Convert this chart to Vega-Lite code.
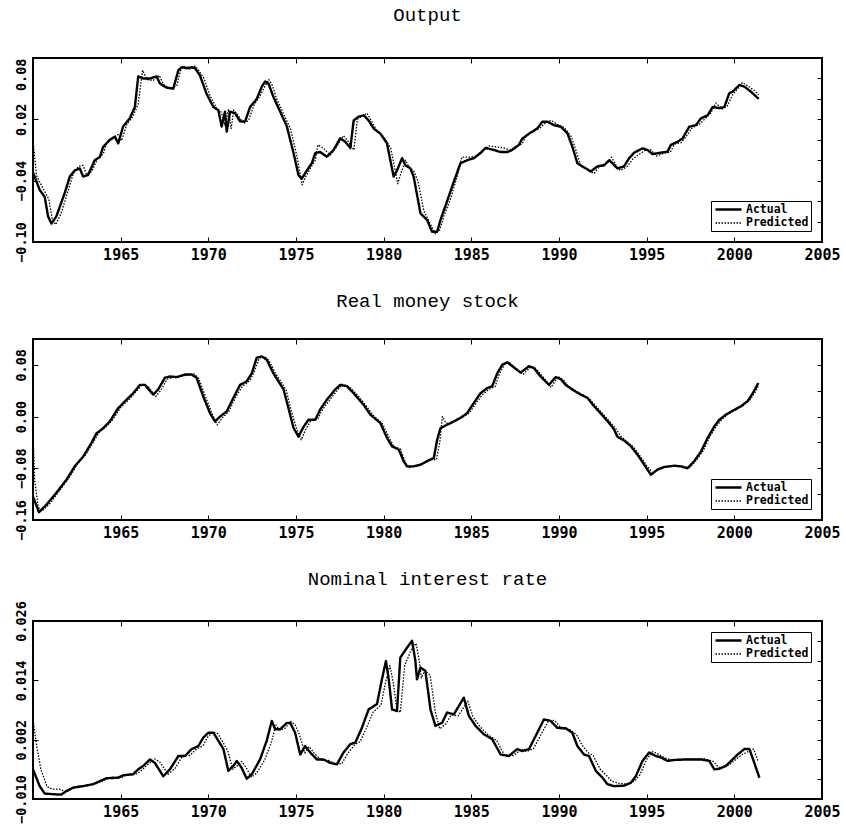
{
  "$schema": "https://vega.github.io/schema/vega-lite/v6.json",
  "padding": {"left": 12, "top": 4, "right": 4, "bottom": 2},
  "background": "white",
  "spacing": 26,
  "config": {
    "view": {"stroke": "black", "strokeWidth": 2},
    "title": {"font": "Liberation Mono", "fontSize": 19, "fontWeight": "normal", "color": "black"},
    "axis": {"domain": false, "grid": false, "labelFont": "DejaVu Sans Mono", "labelFontWeight": "bold", "labelColor": "black", "tickColor": "black", "tickSize": -5, "tickWidth": 1, "labelPadding": 10, "labelFlush": false, "labelOverlap": false},
    "axisX": {"labelFontSize": 15},
    "axisY": {"labelFontSize": 13.5, "labelAngle": 270},
    "legend": {"strokeColor": "black", "fillColor": "white", "padding": 2, "offset": 11, "labelFont": "DejaVu Sans Mono", "labelFontWeight": "bold", "labelFontSize": 11.5, "labelColor": "black", "symbolType": "M-2.6,0H2.6", "symbolStrokeColor": "black", "symbolSize": 100, "symbolOffset": 9, "rowPadding": 2, "labelOffset": 11}
  },
  "datasets": {
    "output": [
      {"series": "Actual", "year": 1960.0, "value": -0.032},
      {"series": "Actual", "year": 1960.38, "value": -0.049},
      {"series": "Actual", "year": 1960.67, "value": -0.056},
      {"series": "Actual", "year": 1960.86, "value": -0.075},
      {"series": "Actual", "year": 1961.05, "value": -0.082},
      {"series": "Actual", "year": 1961.33, "value": -0.075},
      {"series": "Actual", "year": 1961.81, "value": -0.052},
      {"series": "Actual", "year": 1962.1, "value": -0.036},
      {"series": "Actual", "year": 1962.38, "value": -0.03},
      {"series": "Actual", "year": 1962.67, "value": -0.028},
      {"series": "Actual", "year": 1962.86, "value": -0.036},
      {"series": "Actual", "year": 1963.14, "value": -0.0345},
      {"series": "Actual", "year": 1963.52, "value": -0.02},
      {"series": "Actual", "year": 1963.81, "value": -0.017},
      {"series": "Actual", "year": 1964.0, "value": -0.007},
      {"series": "Actual", "year": 1964.38, "value": 0.0},
      {"series": "Actual", "year": 1964.67, "value": 0.003},
      {"series": "Actual", "year": 1964.86, "value": -0.0035},
      {"series": "Actual", "year": 1965.14, "value": 0.013},
      {"series": "Actual", "year": 1965.52, "value": 0.021},
      {"series": "Actual", "year": 1965.81, "value": 0.032},
      {"series": "Actual", "year": 1966.0, "value": 0.062},
      {"series": "Actual", "year": 1966.29, "value": 0.06},
      {"series": "Actual", "year": 1966.67, "value": 0.06},
      {"series": "Actual", "year": 1967.05, "value": 0.062},
      {"series": "Actual", "year": 1967.24, "value": 0.055},
      {"series": "Actual", "year": 1967.62, "value": 0.051},
      {"series": "Actual", "year": 1968.0, "value": 0.05},
      {"series": "Actual", "year": 1968.29, "value": 0.068},
      {"series": "Actual", "year": 1968.48, "value": 0.071},
      {"series": "Actual", "year": 1968.76, "value": 0.07},
      {"series": "Actual", "year": 1969.05, "value": 0.071},
      {"series": "Actual", "year": 1969.24, "value": 0.07},
      {"series": "Actual", "year": 1969.52, "value": 0.063},
      {"series": "Actual", "year": 1969.9, "value": 0.045},
      {"series": "Actual", "year": 1970.29, "value": 0.032},
      {"series": "Actual", "year": 1970.57, "value": 0.029},
      {"series": "Actual", "year": 1970.76, "value": 0.013},
      {"series": "Actual", "year": 1970.95, "value": 0.0275},
      {"series": "Actual", "year": 1971.05, "value": 0.008},
      {"series": "Actual", "year": 1971.24, "value": 0.0275},
      {"series": "Actual", "year": 1971.52, "value": 0.026},
      {"series": "Actual", "year": 1971.81, "value": 0.018},
      {"series": "Actual", "year": 1972.1, "value": 0.018},
      {"series": "Actual", "year": 1972.38, "value": 0.032},
      {"series": "Actual", "year": 1972.76, "value": 0.04},
      {"series": "Actual", "year": 1973.05, "value": 0.052},
      {"series": "Actual", "year": 1973.24, "value": 0.057},
      {"series": "Actual", "year": 1973.43, "value": 0.055},
      {"series": "Actual", "year": 1973.71, "value": 0.042},
      {"series": "Actual", "year": 1974.1, "value": 0.0275},
      {"series": "Actual", "year": 1974.48, "value": 0.013},
      {"series": "Actual", "year": 1974.86, "value": -0.013},
      {"series": "Actual", "year": 1975.14, "value": -0.0345},
      {"series": "Actual", "year": 1975.33, "value": -0.038},
      {"series": "Actual", "year": 1975.62, "value": -0.03},
      {"series": "Actual", "year": 1975.9, "value": -0.023},
      {"series": "Actual", "year": 1976.1, "value": -0.013},
      {"series": "Actual", "year": 1976.38, "value": -0.012},
      {"series": "Actual", "year": 1976.76, "value": -0.0166},
      {"series": "Actual", "year": 1977.14, "value": -0.01},
      {"series": "Actual", "year": 1977.52, "value": 0.0014},
      {"series": "Actual", "year": 1977.81, "value": -0.002},
      {"series": "Actual", "year": 1978.1, "value": -0.008},
      {"series": "Actual", "year": 1978.29, "value": 0.019},
      {"series": "Actual", "year": 1978.57, "value": 0.0226},
      {"series": "Actual", "year": 1978.86, "value": 0.024},
      {"series": "Actual", "year": 1979.14, "value": 0.019},
      {"series": "Actual", "year": 1979.43, "value": 0.011},
      {"series": "Actual", "year": 1979.81, "value": 0.006},
      {"series": "Actual", "year": 1980.19, "value": -0.0035},
      {"series": "Actual", "year": 1980.38, "value": -0.02},
      {"series": "Actual", "year": 1980.57, "value": -0.036},
      {"series": "Actual", "year": 1980.76, "value": -0.03},
      {"series": "Actual", "year": 1981.05, "value": -0.018},
      {"series": "Actual", "year": 1981.24, "value": -0.025},
      {"series": "Actual", "year": 1981.52, "value": -0.028},
      {"series": "Actual", "year": 1981.71, "value": -0.036},
      {"series": "Actual", "year": 1982.1, "value": -0.072},
      {"series": "Actual", "year": 1982.48, "value": -0.0785},
      {"series": "Actual", "year": 1982.76, "value": -0.09},
      {"series": "Actual", "year": 1983.05, "value": -0.09},
      {"series": "Actual", "year": 1983.24, "value": -0.0785},
      {"series": "Actual", "year": 1983.62, "value": -0.06},
      {"series": "Actual", "year": 1984.0, "value": -0.041},
      {"series": "Actual", "year": 1984.38, "value": -0.023},
      {"series": "Actual", "year": 1984.76, "value": -0.02},
      {"series": "Actual", "year": 1985.14, "value": -0.018},
      {"series": "Actual", "year": 1985.52, "value": -0.013},
      {"series": "Actual", "year": 1985.81, "value": -0.008},
      {"series": "Actual", "year": 1986.29, "value": -0.01},
      {"series": "Actual", "year": 1986.67, "value": -0.012},
      {"series": "Actual", "year": 1987.05, "value": -0.012},
      {"series": "Actual", "year": 1987.33, "value": -0.01},
      {"series": "Actual", "year": 1987.71, "value": -0.005},
      {"series": "Actual", "year": 1987.9, "value": 0.001},
      {"series": "Actual", "year": 1988.29, "value": 0.006},
      {"series": "Actual", "year": 1988.76, "value": 0.011},
      {"series": "Actual", "year": 1989.05, "value": 0.0177},
      {"series": "Actual", "year": 1989.33, "value": 0.0177},
      {"series": "Actual", "year": 1989.71, "value": 0.0144},
      {"series": "Actual", "year": 1990.1, "value": 0.0128},
      {"series": "Actual", "year": 1990.48, "value": 0.0063},
      {"series": "Actual", "year": 1990.76, "value": -0.0067},
      {"series": "Actual", "year": 1991.05, "value": -0.023},
      {"series": "Actual", "year": 1991.33, "value": -0.026},
      {"series": "Actual", "year": 1991.81, "value": -0.031},
      {"series": "Actual", "year": 1992.19, "value": -0.026},
      {"series": "Actual", "year": 1992.57, "value": -0.025},
      {"series": "Actual", "year": 1992.86, "value": -0.02},
      {"series": "Actual", "year": 1993.05, "value": -0.023},
      {"series": "Actual", "year": 1993.33, "value": -0.028},
      {"series": "Actual", "year": 1993.71, "value": -0.026},
      {"series": "Actual", "year": 1994.0, "value": -0.018},
      {"series": "Actual", "year": 1994.29, "value": -0.0126},
      {"series": "Actual", "year": 1994.76, "value": -0.0084},
      {"series": "Actual", "year": 1995.05, "value": -0.01},
      {"series": "Actual", "year": 1995.33, "value": -0.014},
      {"series": "Actual", "year": 1995.81, "value": -0.0126},
      {"series": "Actual", "year": 1996.19, "value": -0.0117},
      {"series": "Actual", "year": 1996.38, "value": -0.005},
      {"series": "Actual", "year": 1996.76, "value": -0.002},
      {"series": "Actual", "year": 1997.05, "value": 0.0014},
      {"series": "Actual", "year": 1997.43, "value": 0.0128},
      {"series": "Actual", "year": 1997.81, "value": 0.0144},
      {"series": "Actual", "year": 1998.1, "value": 0.021},
      {"series": "Actual", "year": 1998.48, "value": 0.024},
      {"series": "Actual", "year": 1998.76, "value": 0.032},
      {"series": "Actual", "year": 1999.14, "value": 0.031},
      {"series": "Actual", "year": 1999.43, "value": 0.032},
      {"series": "Actual", "year": 1999.71, "value": 0.0455},
      {"series": "Actual", "year": 1999.9, "value": 0.047},
      {"series": "Actual", "year": 2000.29, "value": 0.0536},
      {"series": "Actual", "year": 2000.57, "value": 0.052},
      {"series": "Actual", "year": 2000.95, "value": 0.047},
      {"series": "Actual", "year": 2001.39, "value": 0.04},
      {"series": "Predicted", "year": 1960.0, "value": 0.0},
      {"series": "Predicted", "year": 1960.2, "value": -0.035},
      {"series": "Predicted", "year": 1960.55, "value": -0.047},
      {"series": "Predicted", "year": 1960.9, "value": -0.058},
      {"series": "Predicted", "year": 1961.1, "value": -0.078},
      {"series": "Predicted", "year": 1961.3, "value": -0.083},
      {"series": "Predicted", "year": 1961.6, "value": -0.072},
      {"series": "Predicted", "year": 1962.0, "value": -0.05},
      {"series": "Predicted", "year": 1962.3, "value": -0.033},
      {"series": "Predicted", "year": 1962.6, "value": -0.026},
      {"series": "Predicted", "year": 1962.85, "value": -0.025},
      {"series": "Predicted", "year": 1963.05, "value": -0.034},
      {"series": "Predicted", "year": 1963.35, "value": -0.031},
      {"series": "Predicted", "year": 1963.7, "value": -0.018},
      {"series": "Predicted", "year": 1964.0, "value": -0.014},
      {"series": "Predicted", "year": 1964.2, "value": -0.004},
      {"series": "Predicted", "year": 1964.55, "value": 0.002},
      {"series": "Predicted", "year": 1964.85, "value": 0.005},
      {"series": "Predicted", "year": 1965.05, "value": -0.001},
      {"series": "Predicted", "year": 1965.35, "value": 0.015},
      {"series": "Predicted", "year": 1965.7, "value": 0.023},
      {"series": "Predicted", "year": 1966.0, "value": 0.035},
      {"series": "Predicted", "year": 1966.25, "value": 0.068},
      {"series": "Predicted", "year": 1966.5, "value": 0.059},
      {"series": "Predicted", "year": 1966.85, "value": 0.058},
      {"series": "Predicted", "year": 1967.2, "value": 0.063},
      {"series": "Predicted", "year": 1967.45, "value": 0.054},
      {"series": "Predicted", "year": 1967.8, "value": 0.05},
      {"series": "Predicted", "year": 1968.2, "value": 0.053},
      {"series": "Predicted", "year": 1968.45, "value": 0.07},
      {"series": "Predicted", "year": 1968.7, "value": 0.072},
      {"series": "Predicted", "year": 1968.95, "value": 0.069},
      {"series": "Predicted", "year": 1969.25, "value": 0.072},
      {"series": "Predicted", "year": 1969.45, "value": 0.068},
      {"series": "Predicted", "year": 1969.75, "value": 0.06},
      {"series": "Predicted", "year": 1970.1, "value": 0.043},
      {"series": "Predicted", "year": 1970.5, "value": 0.03},
      {"series": "Predicted", "year": 1970.75, "value": 0.027},
      {"series": "Predicted", "year": 1970.95, "value": 0.014},
      {"series": "Predicted", "year": 1971.15, "value": 0.03},
      {"series": "Predicted", "year": 1971.3, "value": 0.011},
      {"series": "Predicted", "year": 1971.45, "value": 0.029},
      {"series": "Predicted", "year": 1971.7, "value": 0.024},
      {"series": "Predicted", "year": 1972.0, "value": 0.016},
      {"series": "Predicted", "year": 1972.3, "value": 0.019},
      {"series": "Predicted", "year": 1972.6, "value": 0.034},
      {"series": "Predicted", "year": 1972.95, "value": 0.043},
      {"series": "Predicted", "year": 1973.25, "value": 0.053},
      {"series": "Predicted", "year": 1973.45, "value": 0.059},
      {"series": "Predicted", "year": 1973.65, "value": 0.053},
      {"series": "Predicted", "year": 1973.9, "value": 0.04},
      {"series": "Predicted", "year": 1974.3, "value": 0.025},
      {"series": "Predicted", "year": 1974.7, "value": 0.01},
      {"series": "Predicted", "year": 1975.05, "value": -0.016},
      {"series": "Predicted", "year": 1975.35, "value": -0.044},
      {"series": "Predicted", "year": 1975.55, "value": -0.036},
      {"series": "Predicted", "year": 1975.85, "value": -0.027},
      {"series": "Predicted", "year": 1976.1, "value": -0.02},
      {"series": "Predicted", "year": 1976.25, "value": -0.005},
      {"series": "Predicted", "year": 1976.55, "value": -0.008},
      {"series": "Predicted", "year": 1976.95, "value": -0.015},
      {"series": "Predicted", "year": 1977.35, "value": -0.006},
      {"series": "Predicted", "year": 1977.7, "value": 0.004},
      {"series": "Predicted", "year": 1978.0, "value": -0.002},
      {"series": "Predicted", "year": 1978.3, "value": -0.01},
      {"series": "Predicted", "year": 1978.5, "value": 0.02},
      {"series": "Predicted", "year": 1978.75, "value": 0.023},
      {"series": "Predicted", "year": 1979.05, "value": 0.026},
      {"series": "Predicted", "year": 1979.35, "value": 0.017},
      {"series": "Predicted", "year": 1979.6, "value": 0.009},
      {"series": "Predicted", "year": 1980.0, "value": 0.003},
      {"series": "Predicted", "year": 1980.4, "value": -0.008},
      {"series": "Predicted", "year": 1980.6, "value": -0.025},
      {"series": "Predicted", "year": 1980.8, "value": -0.043},
      {"series": "Predicted", "year": 1981.0, "value": -0.032},
      {"series": "Predicted", "year": 1981.25, "value": -0.02},
      {"series": "Predicted", "year": 1981.45, "value": -0.027},
      {"series": "Predicted", "year": 1981.7, "value": -0.03},
      {"series": "Predicted", "year": 1981.95, "value": -0.04},
      {"series": "Predicted", "year": 1982.3, "value": -0.07},
      {"series": "Predicted", "year": 1982.65, "value": -0.082},
      {"series": "Predicted", "year": 1982.95, "value": -0.092},
      {"series": "Predicted", "year": 1983.2, "value": -0.088},
      {"series": "Predicted", "year": 1983.45, "value": -0.074},
      {"series": "Predicted", "year": 1983.85, "value": -0.056},
      {"series": "Predicted", "year": 1984.2, "value": -0.035},
      {"series": "Predicted", "year": 1984.45, "value": -0.017},
      {"series": "Predicted", "year": 1984.9, "value": -0.017},
      {"series": "Predicted", "year": 1985.3, "value": -0.016},
      {"series": "Predicted", "year": 1985.7, "value": -0.01},
      {"series": "Predicted", "year": 1986.0, "value": -0.006},
      {"series": "Predicted", "year": 1986.45, "value": -0.007},
      {"series": "Predicted", "year": 1986.85, "value": -0.008},
      {"series": "Predicted", "year": 1987.2, "value": -0.01},
      {"series": "Predicted", "year": 1987.5, "value": -0.007},
      {"series": "Predicted", "year": 1987.9, "value": -0.004},
      {"series": "Predicted", "year": 1988.1, "value": 0.003},
      {"series": "Predicted", "year": 1988.5, "value": 0.008},
      {"series": "Predicted", "year": 1988.95, "value": 0.012},
      {"series": "Predicted", "year": 1989.25, "value": 0.017},
      {"series": "Predicted", "year": 1989.55, "value": 0.019},
      {"series": "Predicted", "year": 1989.9, "value": 0.015},
      {"series": "Predicted", "year": 1990.3, "value": 0.012},
      {"series": "Predicted", "year": 1990.7, "value": 0.003},
      {"series": "Predicted", "year": 1991.0, "value": -0.012},
      {"series": "Predicted", "year": 1991.25, "value": -0.026},
      {"series": "Predicted", "year": 1991.55, "value": -0.028},
      {"series": "Predicted", "year": 1992.0, "value": -0.033},
      {"series": "Predicted", "year": 1992.35, "value": -0.025},
      {"series": "Predicted", "year": 1992.75, "value": -0.023},
      {"series": "Predicted", "year": 1993.0, "value": -0.017},
      {"series": "Predicted", "year": 1993.25, "value": -0.025},
      {"series": "Predicted", "year": 1993.5, "value": -0.03},
      {"series": "Predicted", "year": 1993.9, "value": -0.026},
      {"series": "Predicted", "year": 1994.2, "value": -0.019},
      {"series": "Predicted", "year": 1994.5, "value": -0.015},
      {"series": "Predicted", "year": 1994.95, "value": -0.01},
      {"series": "Predicted", "year": 1995.25, "value": -0.01},
      {"series": "Predicted", "year": 1995.55, "value": -0.016},
      {"series": "Predicted", "year": 1996.0, "value": -0.013},
      {"series": "Predicted", "year": 1996.35, "value": -0.012},
      {"series": "Predicted", "year": 1996.6, "value": -0.004},
      {"series": "Predicted", "year": 1996.95, "value": -0.003},
      {"series": "Predicted", "year": 1997.25, "value": 0.003},
      {"series": "Predicted", "year": 1997.6, "value": 0.012},
      {"series": "Predicted", "year": 1998.0, "value": 0.015},
      {"series": "Predicted", "year": 1998.3, "value": 0.02},
      {"series": "Predicted", "year": 1998.65, "value": 0.026},
      {"series": "Predicted", "year": 1998.95, "value": 0.036},
      {"series": "Predicted", "year": 1999.3, "value": 0.03},
      {"series": "Predicted", "year": 1999.6, "value": 0.033},
      {"series": "Predicted", "year": 1999.9, "value": 0.044},
      {"series": "Predicted", "year": 2000.1, "value": 0.048},
      {"series": "Predicted", "year": 2000.45, "value": 0.056},
      {"series": "Predicted", "year": 2000.75, "value": 0.053},
      {"series": "Predicted", "year": 2001.15, "value": 0.048},
      {"series": "Predicted", "year": 2001.39, "value": 0.044}
    ],
    "money": [
      {"series": "Actual", "year": 1960.0, "value": -0.124},
      {"series": "Actual", "year": 1960.34, "value": -0.148},
      {"series": "Actual", "year": 1960.76, "value": -0.1365},
      {"series": "Actual", "year": 1961.33, "value": -0.118},
      {"series": "Actual", "year": 1961.9, "value": -0.098},
      {"series": "Actual", "year": 1962.38, "value": -0.077},
      {"series": "Actual", "year": 1962.86, "value": -0.062},
      {"series": "Actual", "year": 1963.33, "value": -0.041},
      {"series": "Actual", "year": 1963.62, "value": -0.026},
      {"series": "Actual", "year": 1964.0, "value": -0.018},
      {"series": "Actual", "year": 1964.38, "value": -0.0075},
      {"series": "Actual", "year": 1964.86, "value": 0.013},
      {"series": "Actual", "year": 1965.33, "value": 0.026},
      {"series": "Actual", "year": 1965.71, "value": 0.036},
      {"series": "Actual", "year": 1966.1, "value": 0.049},
      {"series": "Actual", "year": 1966.38, "value": 0.049},
      {"series": "Actual", "year": 1966.86, "value": 0.034},
      {"series": "Actual", "year": 1967.14, "value": 0.042},
      {"series": "Actual", "year": 1967.52, "value": 0.06},
      {"series": "Actual", "year": 1967.81, "value": 0.062},
      {"series": "Actual", "year": 1968.19, "value": 0.061},
      {"series": "Actual", "year": 1968.67, "value": 0.065},
      {"series": "Actual", "year": 1969.05, "value": 0.065},
      {"series": "Actual", "year": 1969.33, "value": 0.06},
      {"series": "Actual", "year": 1969.71, "value": 0.031},
      {"series": "Actual", "year": 1970.1, "value": 0.005},
      {"series": "Actual", "year": 1970.38, "value": -0.0075},
      {"series": "Actual", "year": 1970.67, "value": 0.0},
      {"series": "Actual", "year": 1971.05, "value": 0.008},
      {"series": "Actual", "year": 1971.43, "value": 0.029},
      {"series": "Actual", "year": 1971.81, "value": 0.049},
      {"series": "Actual", "year": 1972.19, "value": 0.0545},
      {"series": "Actual", "year": 1972.48, "value": 0.067},
      {"series": "Actual", "year": 1972.76, "value": 0.091},
      {"series": "Actual", "year": 1973.05, "value": 0.093},
      {"series": "Actual", "year": 1973.33, "value": 0.088},
      {"series": "Actual", "year": 1973.71, "value": 0.067},
      {"series": "Actual", "year": 1974.0, "value": 0.0545},
      {"series": "Actual", "year": 1974.29, "value": 0.042},
      {"series": "Actual", "year": 1974.57, "value": 0.013},
      {"series": "Actual", "year": 1974.86, "value": -0.0175},
      {"series": "Actual", "year": 1975.14, "value": -0.031},
      {"series": "Actual", "year": 1975.43, "value": -0.016},
      {"series": "Actual", "year": 1975.71, "value": -0.005},
      {"series": "Actual", "year": 1976.1, "value": -0.005},
      {"series": "Actual", "year": 1976.38, "value": 0.011},
      {"series": "Actual", "year": 1976.76, "value": 0.026},
      {"series": "Actual", "year": 1977.24, "value": 0.042},
      {"series": "Actual", "year": 1977.52, "value": 0.049},
      {"series": "Actual", "year": 1977.9, "value": 0.047},
      {"series": "Actual", "year": 1978.29, "value": 0.036},
      {"series": "Actual", "year": 1978.86, "value": 0.018},
      {"series": "Actual", "year": 1979.24, "value": 0.003},
      {"series": "Actual", "year": 1979.81, "value": -0.01},
      {"series": "Actual", "year": 1980.19, "value": -0.033},
      {"series": "Actual", "year": 1980.48, "value": -0.046},
      {"series": "Actual", "year": 1980.86, "value": -0.051},
      {"series": "Actual", "year": 1981.14, "value": -0.069},
      {"series": "Actual", "year": 1981.33, "value": -0.077},
      {"series": "Actual", "year": 1981.71, "value": -0.077},
      {"series": "Actual", "year": 1982.1, "value": -0.0745},
      {"series": "Actual", "year": 1982.48, "value": -0.069},
      {"series": "Actual", "year": 1982.86, "value": -0.064},
      {"series": "Actual", "year": 1983.05, "value": -0.036},
      {"series": "Actual", "year": 1983.24, "value": -0.018},
      {"series": "Actual", "year": 1983.62, "value": -0.0126},
      {"series": "Actual", "year": 1984.0, "value": -0.0075},
      {"series": "Actual", "year": 1984.38, "value": -0.002},
      {"series": "Actual", "year": 1984.76, "value": 0.0054},
      {"series": "Actual", "year": 1985.14, "value": 0.021},
      {"series": "Actual", "year": 1985.52, "value": 0.036},
      {"series": "Actual", "year": 1985.9, "value": 0.044},
      {"series": "Actual", "year": 1986.19, "value": 0.047},
      {"series": "Actual", "year": 1986.48, "value": 0.067},
      {"series": "Actual", "year": 1986.76, "value": 0.08},
      {"series": "Actual", "year": 1987.05, "value": 0.084},
      {"series": "Actual", "year": 1987.33, "value": 0.078},
      {"series": "Actual", "year": 1987.81, "value": 0.068},
      {"series": "Actual", "year": 1988.29, "value": 0.078},
      {"series": "Actual", "year": 1988.57, "value": 0.075},
      {"series": "Actual", "year": 1988.95, "value": 0.062},
      {"series": "Actual", "year": 1989.43, "value": 0.049},
      {"series": "Actual", "year": 1989.81, "value": 0.061},
      {"series": "Actual", "year": 1990.1, "value": 0.058},
      {"series": "Actual", "year": 1990.38, "value": 0.049},
      {"series": "Actual", "year": 1990.86, "value": 0.04},
      {"series": "Actual", "year": 1991.24, "value": 0.034},
      {"series": "Actual", "year": 1991.62, "value": 0.029},
      {"series": "Actual", "year": 1992.0, "value": 0.016},
      {"series": "Actual", "year": 1992.38, "value": 0.005},
      {"series": "Actual", "year": 1992.86, "value": -0.01},
      {"series": "Actual", "year": 1993.14, "value": -0.02},
      {"series": "Actual", "year": 1993.33, "value": -0.031},
      {"series": "Actual", "year": 1993.71, "value": -0.037},
      {"series": "Actual", "year": 1994.1, "value": -0.046},
      {"series": "Actual", "year": 1994.48, "value": -0.059},
      {"series": "Actual", "year": 1994.86, "value": -0.0745},
      {"series": "Actual", "year": 1995.24, "value": -0.09},
      {"series": "Actual", "year": 1995.62, "value": -0.082},
      {"series": "Actual", "year": 1996.0, "value": -0.078},
      {"series": "Actual", "year": 1996.57, "value": -0.076},
      {"series": "Actual", "year": 1996.95, "value": -0.077},
      {"series": "Actual", "year": 1997.33, "value": -0.08},
      {"series": "Actual", "year": 1997.71, "value": -0.069},
      {"series": "Actual", "year": 1998.1, "value": -0.054},
      {"series": "Actual", "year": 1998.48, "value": -0.033},
      {"series": "Actual", "year": 1998.86, "value": -0.015},
      {"series": "Actual", "year": 1999.14, "value": -0.005},
      {"series": "Actual", "year": 1999.52, "value": 0.003},
      {"series": "Actual", "year": 1999.9, "value": 0.009},
      {"series": "Actual", "year": 2000.38, "value": 0.016},
      {"series": "Actual", "year": 2000.76, "value": 0.024},
      {"series": "Actual", "year": 2001.05, "value": 0.036},
      {"series": "Actual", "year": 2001.37, "value": 0.052},
      {"series": "Predicted", "year": 1960.0, "value": -0.025},
      {"series": "Predicted", "year": 1960.1, "value": -0.1},
      {"series": "Predicted", "year": 1960.3, "value": -0.14},
      {"series": "Predicted", "year": 1960.5, "value": -0.146},
      {"series": "Predicted", "year": 1960.95, "value": -0.135},
      {"series": "Predicted", "year": 1961.5, "value": -0.115},
      {"series": "Predicted", "year": 1962.05, "value": -0.095},
      {"series": "Predicted", "year": 1962.55, "value": -0.073},
      {"series": "Predicted", "year": 1963.0, "value": -0.059},
      {"series": "Predicted", "year": 1963.45, "value": -0.039},
      {"series": "Predicted", "year": 1963.75, "value": -0.025},
      {"series": "Predicted", "year": 1964.15, "value": -0.016},
      {"series": "Predicted", "year": 1964.55, "value": -0.005},
      {"series": "Predicted", "year": 1965.0, "value": 0.014},
      {"series": "Predicted", "year": 1965.5, "value": 0.027},
      {"series": "Predicted", "year": 1965.85, "value": 0.038},
      {"series": "Predicted", "year": 1966.25, "value": 0.05},
      {"series": "Predicted", "year": 1966.55, "value": 0.047},
      {"series": "Predicted", "year": 1967.0, "value": 0.031},
      {"series": "Predicted", "year": 1967.3, "value": 0.041},
      {"series": "Predicted", "year": 1967.65, "value": 0.058},
      {"series": "Predicted", "year": 1967.95, "value": 0.06},
      {"series": "Predicted", "year": 1968.35, "value": 0.062},
      {"series": "Predicted", "year": 1968.8, "value": 0.064},
      {"series": "Predicted", "year": 1969.2, "value": 0.066},
      {"series": "Predicted", "year": 1969.45, "value": 0.059},
      {"series": "Predicted", "year": 1969.85, "value": 0.03},
      {"series": "Predicted", "year": 1970.25, "value": 0.002},
      {"series": "Predicted", "year": 1970.5, "value": -0.013},
      {"series": "Predicted", "year": 1970.8, "value": -0.002},
      {"series": "Predicted", "year": 1971.2, "value": 0.009},
      {"series": "Predicted", "year": 1971.55, "value": 0.03},
      {"series": "Predicted", "year": 1971.95, "value": 0.047},
      {"series": "Predicted", "year": 1972.35, "value": 0.055},
      {"series": "Predicted", "year": 1972.6, "value": 0.068},
      {"series": "Predicted", "year": 1972.9, "value": 0.09},
      {"series": "Predicted", "year": 1973.2, "value": 0.093},
      {"series": "Predicted", "year": 1973.45, "value": 0.087},
      {"series": "Predicted", "year": 1973.85, "value": 0.066},
      {"series": "Predicted", "year": 1974.15, "value": 0.054},
      {"series": "Predicted", "year": 1974.45, "value": 0.04},
      {"series": "Predicted", "year": 1974.7, "value": 0.012},
      {"series": "Predicted", "year": 1975.0, "value": -0.016},
      {"series": "Predicted", "year": 1975.3, "value": -0.036},
      {"series": "Predicted", "year": 1975.55, "value": -0.02},
      {"series": "Predicted", "year": 1975.85, "value": -0.006},
      {"series": "Predicted", "year": 1976.25, "value": -0.003},
      {"series": "Predicted", "year": 1976.5, "value": 0.01},
      {"series": "Predicted", "year": 1976.9, "value": 0.025},
      {"series": "Predicted", "year": 1977.4, "value": 0.042},
      {"series": "Predicted", "year": 1977.65, "value": 0.05},
      {"series": "Predicted", "year": 1978.05, "value": 0.046},
      {"series": "Predicted", "year": 1978.45, "value": 0.035},
      {"series": "Predicted", "year": 1979.0, "value": 0.017},
      {"series": "Predicted", "year": 1979.4, "value": 0.002},
      {"series": "Predicted", "year": 1979.95, "value": -0.012},
      {"series": "Predicted", "year": 1980.3, "value": -0.032},
      {"series": "Predicted", "year": 1980.6, "value": -0.047},
      {"series": "Predicted", "year": 1980.95, "value": -0.05},
      {"series": "Predicted", "year": 1981.25, "value": -0.072},
      {"series": "Predicted", "year": 1981.45, "value": -0.079},
      {"series": "Predicted", "year": 1981.85, "value": -0.076},
      {"series": "Predicted", "year": 1982.25, "value": -0.073},
      {"series": "Predicted", "year": 1982.6, "value": -0.066},
      {"series": "Predicted", "year": 1983.0, "value": -0.067},
      {"series": "Predicted", "year": 1983.2, "value": -0.04},
      {"series": "Predicted", "year": 1983.35, "value": 0.0},
      {"series": "Predicted", "year": 1983.55, "value": -0.01},
      {"series": "Predicted", "year": 1983.8, "value": -0.011},
      {"series": "Predicted", "year": 1984.15, "value": -0.006},
      {"series": "Predicted", "year": 1984.5, "value": -0.001},
      {"series": "Predicted", "year": 1984.9, "value": 0.006},
      {"series": "Predicted", "year": 1985.3, "value": 0.022},
      {"series": "Predicted", "year": 1985.65, "value": 0.034},
      {"series": "Predicted", "year": 1986.05, "value": 0.043},
      {"series": "Predicted", "year": 1986.35, "value": 0.046},
      {"series": "Predicted", "year": 1986.6, "value": 0.066},
      {"series": "Predicted", "year": 1986.9, "value": 0.081},
      {"series": "Predicted", "year": 1987.2, "value": 0.083},
      {"series": "Predicted", "year": 1987.5, "value": 0.076},
      {"series": "Predicted", "year": 1987.95, "value": 0.065},
      {"series": "Predicted", "year": 1988.4, "value": 0.077},
      {"series": "Predicted", "year": 1988.7, "value": 0.074},
      {"series": "Predicted", "year": 1989.1, "value": 0.061},
      {"series": "Predicted", "year": 1989.55, "value": 0.045},
      {"series": "Predicted", "year": 1989.95, "value": 0.062},
      {"series": "Predicted", "year": 1990.25, "value": 0.057},
      {"series": "Predicted", "year": 1990.5, "value": 0.048},
      {"series": "Predicted", "year": 1991.0, "value": 0.039},
      {"series": "Predicted", "year": 1991.4, "value": 0.033},
      {"series": "Predicted", "year": 1991.75, "value": 0.027},
      {"series": "Predicted", "year": 1992.15, "value": 0.015},
      {"series": "Predicted", "year": 1992.5, "value": 0.004},
      {"series": "Predicted", "year": 1993.0, "value": -0.011},
      {"series": "Predicted", "year": 1993.3, "value": -0.021},
      {"series": "Predicted", "year": 1993.5, "value": -0.03},
      {"series": "Predicted", "year": 1993.85, "value": -0.038},
      {"series": "Predicted", "year": 1994.25, "value": -0.047},
      {"series": "Predicted", "year": 1994.6, "value": -0.06},
      {"series": "Predicted", "year": 1995.0, "value": -0.076},
      {"series": "Predicted", "year": 1995.35, "value": -0.087},
      {"series": "Predicted", "year": 1995.75, "value": -0.08},
      {"series": "Predicted", "year": 1996.15, "value": -0.077},
      {"series": "Predicted", "year": 1996.7, "value": -0.077},
      {"series": "Predicted", "year": 1997.1, "value": -0.077},
      {"series": "Predicted", "year": 1997.45, "value": -0.079},
      {"series": "Predicted", "year": 1997.85, "value": -0.067},
      {"series": "Predicted", "year": 1998.25, "value": -0.052},
      {"series": "Predicted", "year": 1998.6, "value": -0.031},
      {"series": "Predicted", "year": 1999.0, "value": -0.014},
      {"series": "Predicted", "year": 1999.3, "value": -0.004},
      {"series": "Predicted", "year": 1999.65, "value": 0.004},
      {"series": "Predicted", "year": 2000.05, "value": 0.01},
      {"series": "Predicted", "year": 2000.5, "value": 0.017},
      {"series": "Predicted", "year": 2000.9, "value": 0.026},
      {"series": "Predicted", "year": 2001.2, "value": 0.038},
      {"series": "Predicted", "year": 2001.37, "value": 0.048}
    ],
    "rate": [
      {"series": "Actual", "year": 1960.0, "value": -0.004},
      {"series": "Actual", "year": 1960.38, "value": -0.0074},
      {"series": "Actual", "year": 1960.67, "value": -0.0089},
      {"series": "Actual", "year": 1961.43, "value": -0.0091},
      {"series": "Actual", "year": 1961.62, "value": -0.0091},
      {"series": "Actual", "year": 1961.9, "value": -0.0084},
      {"series": "Actual", "year": 1962.29, "value": -0.0077},
      {"series": "Actual", "year": 1962.86, "value": -0.0074},
      {"series": "Actual", "year": 1963.43, "value": -0.007},
      {"series": "Actual", "year": 1963.81, "value": -0.0064},
      {"series": "Actual", "year": 1964.19, "value": -0.0058},
      {"series": "Actual", "year": 1964.86, "value": -0.0057},
      {"series": "Actual", "year": 1965.14, "value": -0.0052},
      {"series": "Actual", "year": 1965.71, "value": -0.005},
      {"series": "Actual", "year": 1966.0, "value": -0.004},
      {"series": "Actual", "year": 1966.29, "value": -0.0033},
      {"series": "Actual", "year": 1966.67, "value": -0.002},
      {"series": "Actual", "year": 1966.95, "value": -0.0027},
      {"series": "Actual", "year": 1967.43, "value": -0.0054},
      {"series": "Actual", "year": 1967.81, "value": -0.004},
      {"series": "Actual", "year": 1968.29, "value": -0.0013},
      {"series": "Actual", "year": 1968.67, "value": -0.0013},
      {"series": "Actual", "year": 1969.05, "value": 0.0001},
      {"series": "Actual", "year": 1969.43, "value": 0.0007},
      {"series": "Actual", "year": 1969.71, "value": 0.0024},
      {"series": "Actual", "year": 1970.0, "value": 0.0034},
      {"series": "Actual", "year": 1970.29, "value": 0.0034},
      {"series": "Actual", "year": 1970.86, "value": 0.0001},
      {"series": "Actual", "year": 1971.14, "value": -0.0043},
      {"series": "Actual", "year": 1971.43, "value": -0.0033},
      {"series": "Actual", "year": 1971.62, "value": -0.0023},
      {"series": "Actual", "year": 1971.9, "value": -0.0037},
      {"series": "Actual", "year": 1972.19, "value": -0.0059},
      {"series": "Actual", "year": 1972.48, "value": -0.005},
      {"series": "Actual", "year": 1972.95, "value": -0.002},
      {"series": "Actual", "year": 1973.33, "value": 0.0018},
      {"series": "Actual", "year": 1973.62, "value": 0.0058},
      {"series": "Actual", "year": 1973.81, "value": 0.0041},
      {"series": "Actual", "year": 1974.1, "value": 0.0041},
      {"series": "Actual", "year": 1974.48, "value": 0.0054},
      {"series": "Actual", "year": 1974.67, "value": 0.0054},
      {"series": "Actual", "year": 1974.95, "value": 0.0034},
      {"series": "Actual", "year": 1975.24, "value": -0.001},
      {"series": "Actual", "year": 1975.52, "value": 0.0007},
      {"series": "Actual", "year": 1975.81, "value": -0.0006},
      {"series": "Actual", "year": 1976.19, "value": -0.002},
      {"series": "Actual", "year": 1976.57, "value": -0.002},
      {"series": "Actual", "year": 1976.95, "value": -0.0027},
      {"series": "Actual", "year": 1977.33, "value": -0.003},
      {"series": "Actual", "year": 1977.71, "value": -0.0006},
      {"series": "Actual", "year": 1978.1, "value": 0.0011},
      {"series": "Actual", "year": 1978.38, "value": 0.0014},
      {"series": "Actual", "year": 1978.76, "value": 0.0044},
      {"series": "Actual", "year": 1979.14, "value": 0.0081},
      {"series": "Actual", "year": 1979.62, "value": 0.0092},
      {"series": "Actual", "year": 1979.9, "value": 0.0142},
      {"series": "Actual", "year": 1980.13, "value": 0.0179},
      {"series": "Actual", "year": 1980.29, "value": 0.0142},
      {"series": "Actual", "year": 1980.48, "value": 0.0081},
      {"series": "Actual", "year": 1980.76, "value": 0.0078},
      {"series": "Actual", "year": 1980.95, "value": 0.0186},
      {"series": "Actual", "year": 1981.33, "value": 0.0206},
      {"series": "Actual", "year": 1981.62, "value": 0.022},
      {"series": "Actual", "year": 1981.81, "value": 0.0179},
      {"series": "Actual", "year": 1981.9, "value": 0.0142},
      {"series": "Actual", "year": 1982.1, "value": 0.0166},
      {"series": "Actual", "year": 1982.38, "value": 0.0159},
      {"series": "Actual", "year": 1982.67, "value": 0.0081},
      {"series": "Actual", "year": 1982.95, "value": 0.0048},
      {"series": "Actual", "year": 1983.33, "value": 0.0054},
      {"series": "Actual", "year": 1983.62, "value": 0.0075},
      {"series": "Actual", "year": 1984.0, "value": 0.0071},
      {"series": "Actual", "year": 1984.57, "value": 0.0105},
      {"series": "Actual", "year": 1984.86, "value": 0.0068},
      {"series": "Actual", "year": 1985.24, "value": 0.0048},
      {"series": "Actual", "year": 1985.71, "value": 0.0031},
      {"series": "Actual", "year": 1986.19, "value": 0.0021},
      {"series": "Actual", "year": 1986.67, "value": -0.001},
      {"series": "Actual", "year": 1987.14, "value": -0.0013},
      {"series": "Actual", "year": 1987.62, "value": 0.0001},
      {"series": "Actual", "year": 1987.9, "value": -0.0003},
      {"series": "Actual", "year": 1988.29, "value": 0.0001},
      {"series": "Actual", "year": 1988.76, "value": 0.0034},
      {"series": "Actual", "year": 1989.14, "value": 0.0061},
      {"series": "Actual", "year": 1989.52, "value": 0.0058},
      {"series": "Actual", "year": 1989.9, "value": 0.0044},
      {"series": "Actual", "year": 1990.38, "value": 0.0043},
      {"series": "Actual", "year": 1990.76, "value": 0.0034},
      {"series": "Actual", "year": 1991.05, "value": 0.0007},
      {"series": "Actual", "year": 1991.43, "value": -0.001},
      {"series": "Actual", "year": 1991.71, "value": -0.0013},
      {"series": "Actual", "year": 1992.1, "value": -0.0043},
      {"series": "Actual", "year": 1992.48, "value": -0.0057},
      {"series": "Actual", "year": 1992.76, "value": -0.007},
      {"series": "Actual", "year": 1993.14, "value": -0.0074},
      {"series": "Actual", "year": 1993.71, "value": -0.0073},
      {"series": "Actual", "year": 1994.1, "value": -0.0067},
      {"series": "Actual", "year": 1994.38, "value": -0.0054},
      {"series": "Actual", "year": 1994.76, "value": -0.0023},
      {"series": "Actual", "year": 1995.14, "value": -0.0006},
      {"series": "Actual", "year": 1995.52, "value": -0.0013},
      {"series": "Actual", "year": 1995.81, "value": -0.0016},
      {"series": "Actual", "year": 1996.19, "value": -0.0023},
      {"series": "Actual", "year": 1996.57, "value": -0.0021},
      {"series": "Actual", "year": 1997.33, "value": -0.002},
      {"series": "Actual", "year": 1998.1, "value": -0.002},
      {"series": "Actual", "year": 1998.57, "value": -0.0023},
      {"series": "Actual", "year": 1998.86, "value": -0.004},
      {"series": "Actual", "year": 1999.14, "value": -0.0039},
      {"series": "Actual", "year": 1999.52, "value": -0.0033},
      {"series": "Actual", "year": 1999.9, "value": -0.002},
      {"series": "Actual", "year": 2000.19, "value": -0.001},
      {"series": "Actual", "year": 2000.57, "value": 0.0001},
      {"series": "Actual", "year": 2000.86, "value": 0.0001},
      {"series": "Actual", "year": 2001.14, "value": -0.0027},
      {"series": "Actual", "year": 2001.43, "value": -0.0057},
      {"series": "Predicted", "year": 1960.0, "value": 0.006},
      {"series": "Predicted", "year": 1960.2, "value": 0.001},
      {"series": "Predicted", "year": 1960.45, "value": -0.004},
      {"series": "Predicted", "year": 1960.8, "value": -0.0075},
      {"series": "Predicted", "year": 1961.1, "value": -0.008},
      {"series": "Predicted", "year": 1961.5, "value": -0.008},
      {"series": "Predicted", "year": 1961.9, "value": -0.0086},
      {"series": "Predicted", "year": 1962.2, "value": -0.008},
      {"series": "Predicted", "year": 1962.6, "value": -0.0074},
      {"series": "Predicted", "year": 1963.1, "value": -0.0072},
      {"series": "Predicted", "year": 1963.7, "value": -0.0068},
      {"series": "Predicted", "year": 1964.05, "value": -0.0062},
      {"series": "Predicted", "year": 1964.45, "value": -0.0056},
      {"series": "Predicted", "year": 1965.1, "value": -0.0056},
      {"series": "Predicted", "year": 1965.4, "value": -0.005},
      {"series": "Predicted", "year": 1965.95, "value": -0.0049},
      {"series": "Predicted", "year": 1966.25, "value": -0.004},
      {"series": "Predicted", "year": 1966.55, "value": -0.003},
      {"series": "Predicted", "year": 1966.95, "value": -0.0019},
      {"series": "Predicted", "year": 1967.25, "value": -0.0026},
      {"series": "Predicted", "year": 1967.7, "value": -0.005},
      {"series": "Predicted", "year": 1968.1, "value": -0.0038},
      {"series": "Predicted", "year": 1968.55, "value": -0.0012},
      {"series": "Predicted", "year": 1968.95, "value": -0.0012},
      {"series": "Predicted", "year": 1969.3, "value": 0.0},
      {"series": "Predicted", "year": 1969.7, "value": 0.0008},
      {"series": "Predicted", "year": 1969.95, "value": 0.0025},
      {"series": "Predicted", "year": 1970.25, "value": 0.0035},
      {"series": "Predicted", "year": 1970.55, "value": 0.0032},
      {"series": "Predicted", "year": 1971.1, "value": -0.0002},
      {"series": "Predicted", "year": 1971.4, "value": -0.004},
      {"series": "Predicted", "year": 1971.7, "value": -0.0031},
      {"series": "Predicted", "year": 1971.9, "value": -0.0024},
      {"series": "Predicted", "year": 1972.15, "value": -0.0036},
      {"series": "Predicted", "year": 1972.45, "value": -0.0056},
      {"series": "Predicted", "year": 1972.75, "value": -0.0048},
      {"series": "Predicted", "year": 1973.2, "value": -0.0022},
      {"series": "Predicted", "year": 1973.6, "value": 0.0015},
      {"series": "Predicted", "year": 1973.85, "value": 0.005},
      {"series": "Predicted", "year": 1974.05, "value": 0.004},
      {"series": "Predicted", "year": 1974.35, "value": 0.0042},
      {"series": "Predicted", "year": 1974.7, "value": 0.0057},
      {"series": "Predicted", "year": 1974.95, "value": 0.005},
      {"series": "Predicted", "year": 1975.2, "value": 0.003},
      {"series": "Predicted", "year": 1975.5, "value": -0.0007},
      {"series": "Predicted", "year": 1975.75, "value": 0.0006},
      {"series": "Predicted", "year": 1976.05, "value": -0.0008},
      {"series": "Predicted", "year": 1976.45, "value": -0.0022},
      {"series": "Predicted", "year": 1976.85, "value": -0.0022},
      {"series": "Predicted", "year": 1977.2, "value": -0.0028},
      {"series": "Predicted", "year": 1977.6, "value": -0.0029},
      {"series": "Predicted", "year": 1977.95, "value": -0.0008},
      {"series": "Predicted", "year": 1978.35, "value": 0.001},
      {"series": "Predicted", "year": 1978.65, "value": 0.0016},
      {"series": "Predicted", "year": 1979.0, "value": 0.0042},
      {"series": "Predicted", "year": 1979.4, "value": 0.0076},
      {"series": "Predicted", "year": 1979.85, "value": 0.009},
      {"series": "Predicted", "year": 1980.1, "value": 0.0135},
      {"series": "Predicted", "year": 1980.35, "value": 0.017},
      {"series": "Predicted", "year": 1980.55, "value": 0.0135},
      {"series": "Predicted", "year": 1980.75, "value": 0.0082},
      {"series": "Predicted", "year": 1980.95, "value": 0.0075},
      {"series": "Predicted", "year": 1981.2, "value": 0.017},
      {"series": "Predicted", "year": 1981.55, "value": 0.02},
      {"series": "Predicted", "year": 1981.85, "value": 0.0215},
      {"series": "Predicted", "year": 1982.05, "value": 0.0175},
      {"series": "Predicted", "year": 1982.15, "value": 0.0145},
      {"series": "Predicted", "year": 1982.35, "value": 0.016},
      {"series": "Predicted", "year": 1982.65, "value": 0.015},
      {"series": "Predicted", "year": 1982.95, "value": 0.0075},
      {"series": "Predicted", "year": 1983.2, "value": 0.0042},
      {"series": "Predicted", "year": 1983.55, "value": 0.0052},
      {"series": "Predicted", "year": 1983.85, "value": 0.007},
      {"series": "Predicted", "year": 1984.25, "value": 0.0068},
      {"series": "Predicted", "year": 1984.8, "value": 0.0098},
      {"series": "Predicted", "year": 1985.1, "value": 0.0066},
      {"series": "Predicted", "year": 1985.5, "value": 0.0046},
      {"series": "Predicted", "year": 1985.95, "value": 0.003},
      {"series": "Predicted", "year": 1986.45, "value": 0.0018},
      {"series": "Predicted", "year": 1986.9, "value": -0.0012},
      {"series": "Predicted", "year": 1987.4, "value": -0.0012},
      {"series": "Predicted", "year": 1987.85, "value": 0.0},
      {"series": "Predicted", "year": 1988.15, "value": -0.0004},
      {"series": "Predicted", "year": 1988.55, "value": 0.0002},
      {"series": "Predicted", "year": 1989.0, "value": 0.0032},
      {"series": "Predicted", "year": 1989.4, "value": 0.0058},
      {"series": "Predicted", "year": 1989.75, "value": 0.0059},
      {"series": "Predicted", "year": 1990.15, "value": 0.0042},
      {"series": "Predicted", "year": 1990.6, "value": 0.0041},
      {"series": "Predicted", "year": 1991.0, "value": 0.003},
      {"series": "Predicted", "year": 1991.3, "value": 0.001},
      {"series": "Predicted", "year": 1991.65, "value": -0.0006},
      {"series": "Predicted", "year": 1991.95, "value": -0.0012},
      {"series": "Predicted", "year": 1992.35, "value": -0.004},
      {"series": "Predicted", "year": 1992.75, "value": -0.0054},
      {"series": "Predicted", "year": 1993.0, "value": -0.0064},
      {"series": "Predicted", "year": 1993.4, "value": -0.0068},
      {"series": "Predicted", "year": 1993.95, "value": -0.007},
      {"series": "Predicted", "year": 1994.3, "value": -0.0064},
      {"series": "Predicted", "year": 1994.6, "value": -0.0052},
      {"series": "Predicted", "year": 1995.0, "value": -0.002},
      {"series": "Predicted", "year": 1995.35, "value": -0.0004},
      {"series": "Predicted", "year": 1995.75, "value": -0.0011},
      {"series": "Predicted", "year": 1996.05, "value": -0.0017},
      {"series": "Predicted", "year": 1996.45, "value": -0.0021},
      {"series": "Predicted", "year": 1996.8, "value": -0.002},
      {"series": "Predicted", "year": 1997.55, "value": -0.0019},
      {"series": "Predicted", "year": 1998.35, "value": -0.0019},
      {"series": "Predicted", "year": 1998.8, "value": -0.0024},
      {"series": "Predicted", "year": 1999.1, "value": -0.0036},
      {"series": "Predicted", "year": 1999.4, "value": -0.0036},
      {"series": "Predicted", "year": 1999.75, "value": -0.003},
      {"series": "Predicted", "year": 2000.15, "value": -0.0018},
      {"series": "Predicted", "year": 2000.45, "value": -0.001},
      {"series": "Predicted", "year": 2000.8, "value": -0.0004},
      {"series": "Predicted", "year": 2001.1, "value": 0.0001},
      {"series": "Predicted", "year": 2001.37, "value": -0.0025}
    ]
  },
  "vconcat": [
    {
      "title": {"text": "Output", "offset": 33},
      "width": 789,
      "height": 184,
      "data": {"name": "output"},
      "layer": [
        {
          "transform": [{"filter": "datum.series === 'Actual'"}],
          "mark": {"type": "line", "color": "black", "strokeJoin": "round"},
          "encoding": {
            "x": {"field": "year", "type": "quantitative", "title": null, "scale": {"domain": [1960, 2005], "nice": false, "zero": false}, "axis": {"values": [1965, 1970, 1975, 1980, 1985, 1990, 1995, 2000, 2005], "format": "d"}},
            "y": {"field": "value", "type": "quantitative", "title": null, "scale": {"domain": [-0.1, 0.08], "nice": false, "zero": false}, "axis": {"values": [-0.1, -0.04, 0.02, 0.08], "format": ".2f", "labelAlign": {"condition": {"test": "datum.value > 0.07", "value": "right"}, "value": "center"}}},
            "strokeDash": {"field": "series", "type": "nominal", "title": null, "scale": {"domain": ["Actual", "Predicted"], "range": [[1, 0], [1.5, 1.5]]}, "legend": {"orient": "bottom-right"}},
            "strokeWidth": {"field": "series", "type": "nominal", "title": null, "scale": {"domain": ["Actual", "Predicted"], "range": [2.4, 1.3]}, "legend": {"orient": "bottom-right"}}
          }
        },
        {
          "transform": [{"filter": "datum.series === 'Predicted'"}],
          "mark": {"type": "line", "color": "black", "strokeJoin": "round"},
          "encoding": {
            "x": {"field": "year", "type": "quantitative", "title": null, "scale": {"domain": [1960, 2005], "nice": false, "zero": false}, "axis": {"orient": "top", "values": [1965, 1970, 1975, 1980, 1985, 1990, 1995, 2000], "labels": false}},
            "y": {"field": "value", "type": "quantitative", "title": null, "scale": {"domain": [-0.1, 0.08], "nice": false, "zero": false}, "axis": {"orient": "right", "values": [-0.08, -0.06, -0.04, -0.02, 0, 0.02, 0.04, 0.06], "labels": false}},
            "strokeDash": {"field": "series", "type": "nominal", "title": null, "scale": {"domain": ["Actual", "Predicted"], "range": [[1, 0], [1.5, 1.5]]}, "legend": {"orient": "bottom-right"}},
            "strokeWidth": {"field": "series", "type": "nominal", "title": null, "scale": {"domain": ["Actual", "Predicted"], "range": [2.4, 1.3]}, "legend": {"orient": "bottom-right"}}
          }
        }
      ],
      "resolve": {"axis": {"x": "independent", "y": "independent"}}
    },
    {
      "title": {"text": "Real money stock", "offset": 28},
      "width": 789,
      "height": 181,
      "data": {"name": "money"},
      "layer": [
        {
          "transform": [{"filter": "datum.series === 'Actual'"}],
          "mark": {"type": "line", "color": "black", "strokeJoin": "round"},
          "encoding": {
            "x": {"field": "year", "type": "quantitative", "title": null, "scale": {"domain": [1960, 2005], "nice": false, "zero": false}, "axis": {"values": [1965, 1970, 1975, 1980, 1985, 1990, 1995, 2000, 2005], "format": "d"}},
            "y": {"field": "value", "type": "quantitative", "title": null, "scale": {"domain": [-0.16, 0.12], "nice": false, "zero": false}, "axis": {"values": [-0.16, -0.08, 0, 0.08], "format": ".2f"}},
            "strokeDash": {"field": "series", "type": "nominal", "title": null, "scale": {"domain": ["Actual", "Predicted"], "range": [[1, 0], [1.5, 1.5]]}, "legend": {"orient": "bottom-right"}},
            "strokeWidth": {"field": "series", "type": "nominal", "title": null, "scale": {"domain": ["Actual", "Predicted"], "range": [2.4, 1.3]}, "legend": {"orient": "bottom-right"}}
          }
        },
        {
          "transform": [{"filter": "datum.series === 'Predicted'"}],
          "mark": {"type": "line", "color": "black", "strokeJoin": "round"},
          "encoding": {
            "x": {"field": "year", "type": "quantitative", "title": null, "scale": {"domain": [1960, 2005], "nice": false, "zero": false}, "axis": {"orient": "top", "values": [1965, 1970, 1975, 1980, 1985, 1990, 1995, 2000], "labels": false}},
            "y": {"field": "value", "type": "quantitative", "title": null, "scale": {"domain": [-0.16, 0.12], "nice": false, "zero": false}, "axis": {"orient": "right", "values": [-0.12, -0.08, -0.04, 0, 0.04, 0.08], "labels": false}},
            "strokeDash": {"field": "series", "type": "nominal", "title": null, "scale": {"domain": ["Actual", "Predicted"], "range": [[1, 0], [1.5, 1.5]]}, "legend": {"orient": "bottom-right"}},
            "strokeWidth": {"field": "series", "type": "nominal", "title": null, "scale": {"domain": ["Actual", "Predicted"], "range": [2.4, 1.3]}, "legend": {"orient": "bottom-right"}}
          }
        }
      ],
      "resolve": {"axis": {"x": "independent", "y": "independent"}}
    },
    {
      "title": {"text": "Nominal interest rate", "offset": 12},
      "width": 789,
      "height": 178,
      "data": {"name": "rate"},
      "layer": [
        {
          "transform": [{"filter": "datum.series === 'Actual'"}],
          "mark": {"type": "line", "color": "black", "strokeJoin": "round"},
          "encoding": {
            "x": {"field": "year", "type": "quantitative", "title": null, "scale": {"domain": [1960, 2005], "nice": false, "zero": false}, "axis": {"values": [1965, 1970, 1975, 1980, 1985, 1990, 1995, 2000, 2005], "format": "d"}},
            "y": {"field": "value", "type": "quantitative", "title": null, "scale": {"domain": [-0.01, 0.026], "nice": false, "zero": false}, "axis": {"values": [-0.01, 0.002, 0.014, 0.026], "format": ".3f"}},
            "strokeDash": {"field": "series", "type": "nominal", "title": null, "scale": {"domain": ["Actual", "Predicted"], "range": [[1, 0], [1.5, 1.5]]}, "legend": {"orient": "top-right"}},
            "strokeWidth": {"field": "series", "type": "nominal", "title": null, "scale": {"domain": ["Actual", "Predicted"], "range": [2.4, 1.3]}, "legend": {"orient": "top-right"}}
          }
        },
        {
          "transform": [{"filter": "datum.series === 'Predicted'"}],
          "mark": {"type": "line", "color": "black", "strokeJoin": "round"},
          "encoding": {
            "x": {"field": "year", "type": "quantitative", "title": null, "scale": {"domain": [1960, 2005], "nice": false, "zero": false}, "axis": {"orient": "top", "values": [1965, 1970, 1975, 1980, 1985, 1990, 1995, 2000], "labels": false}},
            "y": {"field": "value", "type": "quantitative", "title": null, "scale": {"domain": [-0.01, 0.026], "nice": false, "zero": false}, "axis": {"orient": "right", "values": [-0.006, -0.002, 0.002, 0.006, 0.01, 0.014, 0.018, 0.022], "labels": false}},
            "strokeDash": {"field": "series", "type": "nominal", "title": null, "scale": {"domain": ["Actual", "Predicted"], "range": [[1, 0], [1.5, 1.5]]}, "legend": {"orient": "top-right"}},
            "strokeWidth": {"field": "series", "type": "nominal", "title": null, "scale": {"domain": ["Actual", "Predicted"], "range": [2.4, 1.3]}, "legend": {"orient": "top-right"}}
          }
        }
      ],
      "resolve": {"axis": {"x": "independent", "y": "independent"}}
    }
  ]
}
